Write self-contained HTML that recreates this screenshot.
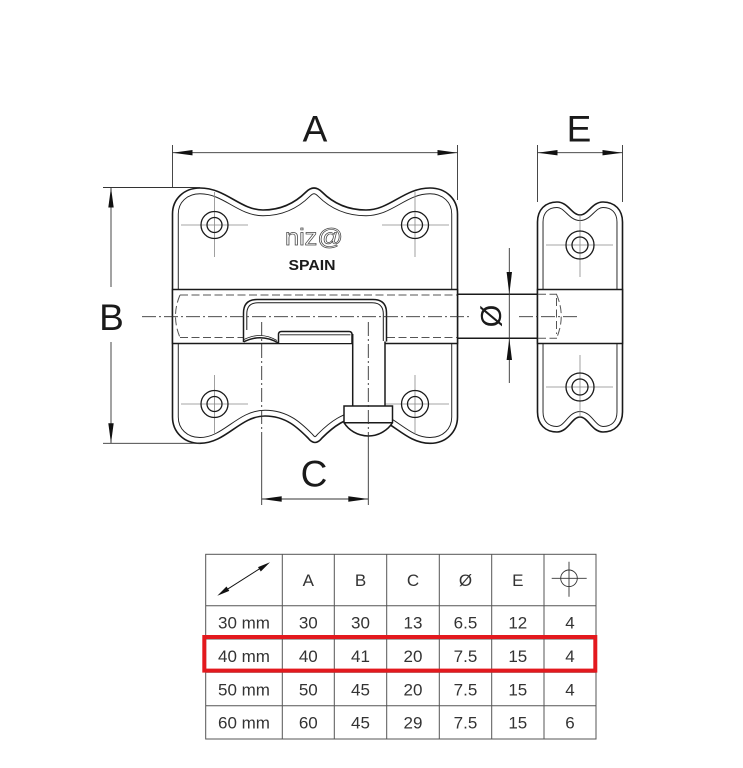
<!DOCTYPE html>
<html><head><meta charset="utf-8"><style>
html,body{margin:0;padding:0;background:#fff;}
svg{display:block;}
text{font-family:"Liberation Sans",sans-serif;}
</style></head><body>
<svg width="743" height="768" viewBox="0 0 743 768" xmlns="http://www.w3.org/2000/svg">
<defs>
<clipPath id="cm"><path id="pm" d="M172.5,300 L172.5,214 C172.5,199 184,188 200,188 C226,188 240,210 263,210 C284,210 298,200 306,192 Q314,184 322,192 C330,200 344,210 366,210 C390,210 404,188 430,188 C446,188 457.5,199 457.5,214 L457.5,417 C457.5,432 446,443.3 430,443.3 C404,443.3 390,416 366,416 C346,416 332,428 322,438 Q315,447 308,438 C298,428 286,416 265,416 C240,416 226,443.3 200,443.3 C184,443.3 172.5,432 172.5,417 Z"/></clipPath>
<clipPath id="ce"><path id="pe" d="M537.5,300 L537.5,222 C537.5,210 545,202 557,202 C568,202 572,215 580,215 C588,215 592,202 603,202 C615,202 622.5,210 622.5,222 L622.5,412 C622.5,424 615,432 603,432 C592,432 588,417 580,417 C572,417 568,432 557,432 C545,432 537.5,424 537.5,412 Z"/></clipPath>
</defs>

<!-- Main plate -->
<use href="#pm" fill="#fff"/>
<g clip-path="url(#cm)">
<use href="#pm" fill="none" stroke="#222" stroke-width="12.5"/>
<use href="#pm" fill="none" stroke="#fff" stroke-width="10.6"/>
</g>
<use href="#pm" fill="none" stroke="#1a1a1a" stroke-width="1.6"/>

<!-- E plate -->
<use href="#pe" fill="#fff"/>
<g clip-path="url(#ce)">
<use href="#pe" fill="none" stroke="#222" stroke-width="12"/>
<use href="#pe" fill="none" stroke="#fff" stroke-width="10.1"/>
</g>
<use href="#pe" fill="none" stroke="#1a1a1a" stroke-width="1.6"/>

<!-- screw holes crosshairs -->
<g stroke="#888" stroke-width="0.8" fill="none">
<line x1="181" y1="225" x2="248" y2="225"/><line x1="214.5" y1="192" x2="214.5" y2="257"/>
<line x1="382" y1="225" x2="449" y2="225"/><line x1="415" y1="192" x2="415" y2="257"/>
<line x1="181" y1="404" x2="248" y2="404"/><line x1="214.5" y1="375" x2="214.5" y2="434"/>
<line x1="382" y1="404" x2="449" y2="404"/><line x1="415" y1="375" x2="415" y2="434"/>
<line x1="546" y1="245" x2="613" y2="245"/><line x1="580" y1="215" x2="580" y2="277"/>
<line x1="546" y1="387" x2="613" y2="387"/><line x1="580" y1="355" x2="580" y2="417"/>
</g>
<g stroke="#1a1a1a" stroke-width="1.3" fill="none">
<circle cx="214.5" cy="225" r="13.5"/><circle cx="214.5" cy="225" r="7.5"/>
<circle cx="415" cy="225" r="13.5"/><circle cx="415" cy="225" r="7.5"/>
<circle cx="214.5" cy="404" r="13.5"/><circle cx="214.5" cy="404" r="7.5"/>
<circle cx="415" cy="404" r="13.5"/><circle cx="415" cy="404" r="7.5"/>
<circle cx="580" cy="245" r="14"/><circle cx="580" cy="245" r="8"/>
<circle cx="580" cy="387" r="14"/><circle cx="580" cy="387" r="8"/>
</g>

<!-- logo -->
<text x="285" y="245" font-size="23" fill="#fff" stroke="#444" stroke-width="0.7" textLength="58" lengthAdjust="spacingAndGlyphs">niz@</text>
<text x="288.5" y="270" font-size="14.5" font-weight="bold" fill="#1a1a1a" textLength="47" lengthAdjust="spacingAndGlyphs">SPAIN</text>

<!-- bars -->
<rect x="172.5" y="289.5" width="285" height="54" fill="#fff" stroke="#1a1a1a" stroke-width="1.5"/>
<rect x="537.5" y="289.5" width="85" height="54" fill="#fff" stroke="#1a1a1a" stroke-width="1.5"/>
<!-- rod visible -->
<line x1="457.5" y1="294.3" x2="537.5" y2="294.3" stroke="#1a1a1a" stroke-width="1.5"/>
<line x1="457.5" y1="338.3" x2="537.5" y2="338.3" stroke="#1a1a1a" stroke-width="1.5"/>
<!-- hidden rod lines -->
<g stroke="#555" stroke-width="1" fill="none" stroke-dasharray="8 3.5">
<line x1="180" y1="295" x2="457" y2="295"/>
<line x1="180" y1="337.5" x2="457" y2="337.5"/>
<path d="M180,295 Q171,316 180,337.5"/>
<line x1="538" y1="294.3" x2="557" y2="294.3"/>
<line x1="538" y1="338.3" x2="557" y2="338.3"/>
<path d="M556.5,294.3 Q566,316 556.5,338.3"/>
<line x1="556.5" y1="298" x2="556.5" y2="334"/>
</g>

<!-- handle -->
<path d="M243.5,343 L243.5,313 Q243.5,299.5 257,299.5 L373,299.5 Q386.5,299.5 386.5,313 L386.5,342 L385,342 L385,406 L352.7,406 L352.7,343 L278.5,343 Q262,334 243.5,343 Z" fill="#fff" stroke="none"/>
<g stroke="#1a1a1a" stroke-width="1.5" fill="none">
<path d="M243.5,342 L243.5,313 Q243.5,299.5 257,299.5 L373,299.5 Q386.5,299.5 386.5,313 L386.5,341.5"/>
<path d="M246.8,330 L246.8,314 Q246.8,302.8 258,302.8 L372,302.8 Q383.3,302.8 383.3,314 L383.3,341" stroke-width="1"/>
<path d="M243.5,342 Q261,333 278.5,343"/>
<path d="M244,339.5 Q261,331 277,340.5" stroke-width="0.8"/>
<path d="M278.5,343 L278.5,334.5 Q278.5,331.5 281.5,331.5 L349,331.5 Q352,331.5 352,334.5 L352,343"/>
<line x1="280" y1="334.8" x2="350.5" y2="334.8" stroke-width="0.9"/>
<line x1="352.7" y1="334" x2="352.7" y2="406"/>
<line x1="385" y1="341.5" x2="385" y2="406"/>
</g>
<!-- knob -->
<path d="M344,406 L392.5,406 L392.5,422.7 A28.8,28.8 0 0 1 344,422.7 Z" fill="#fff" stroke="#1a1a1a" stroke-width="1.5"/>
<line x1="344" y1="422.7" x2="392.5" y2="422.7" stroke="#1a1a1a" stroke-width="1.5"/>

<!-- centerlines -->
<g stroke="#333" stroke-width="0.9" fill="none" stroke-dasharray="14 3 2 3">
<line x1="142" y1="316.7" x2="471" y2="316.7"/>
<line x1="519" y1="316.7" x2="579" y2="316.7"/>
<line x1="261.7" y1="322" x2="261.7" y2="444"/>
<line x1="368.3" y1="322" x2="368.3" y2="444"/>
</g>

<!-- dimension lines -->
<g stroke="#333" stroke-width="0.9" fill="none">
<line x1="261.7" y1="444" x2="261.7" y2="505"/>
<line x1="368.3" y1="444" x2="368.3" y2="505"/>
<line x1="172.5" y1="145" x2="172.5" y2="188"/>
<line x1="457.5" y1="145" x2="457.5" y2="200"/>
<line x1="537.5" y1="145" x2="537.5" y2="202"/>
<line x1="622.5" y1="145" x2="622.5" y2="202"/>
<line x1="103" y1="187.5" x2="200" y2="187.5"/>
<line x1="103" y1="443.3" x2="200" y2="443.3"/>
<line x1="172.5" y1="152.7" x2="457.5" y2="152.7"/>
<line x1="537.5" y1="152.7" x2="622.5" y2="152.7"/>
<line x1="261.7" y1="499" x2="368.3" y2="499"/>
<line x1="111" y1="187.5" x2="111" y2="287"/>
<line x1="111" y1="342" x2="111" y2="443.3"/>
<line x1="509.3" y1="248" x2="509.3" y2="383"/>
</g>
<g fill="#111">
<polygon points="172.5,152.7 192.5,150 192.5,155.4"/>
<polygon points="457.5,152.7 437.5,150 437.5,155.4"/>
<polygon points="537.5,152.7 557.5,150 557.5,155.4"/>
<polygon points="622.5,152.7 602.5,150 602.5,155.4"/>
<polygon points="261.7,499 281.7,496.3 281.7,501.7"/>
<polygon points="368.3,499 348.3,496.3 348.3,501.7"/>
<polygon points="111,187.5 108.3,207.5 113.7,207.5"/>
<polygon points="111,443.3 108.3,423.3 113.7,423.3"/>
<polygon points="509.3,294.3 506.6,272 512,272"/>
<polygon points="509.3,338.3 506.6,360 512,360"/>
</g>
<g fill="#1a1a1a" font-size="37" text-anchor="middle">
<text x="315" y="141.5">A</text>
<text x="579" y="141.5">E</text>
<text x="111.5" y="330">B</text>
<text x="314" y="486.5">C</text>
</g>
<text x="0" y="0" font-size="29" text-anchor="middle" fill="#1a1a1a" transform="translate(491.5,316) rotate(90) translate(0,10.5)">Ø</text>

<!-- table -->
<g stroke="#555" stroke-width="1" fill="none">
<rect x="205.7" y="554.3" width="390.3" height="184.7"/>
<line x1="205.7" y1="605.7" x2="596" y2="605.7"/>
<line x1="205.7" y1="639" x2="596" y2="639"/>
<line x1="205.7" y1="672.3" x2="596" y2="672.3"/>
<line x1="205.7" y1="705.7" x2="596" y2="705.7"/>
<line x1="282.3" y1="554.3" x2="282.3" y2="739"/>
<line x1="334.3" y1="554.3" x2="334.3" y2="739"/>
<line x1="386.7" y1="554.3" x2="386.7" y2="739"/>
<line x1="439.3" y1="554.3" x2="439.3" y2="739"/>
<line x1="491.7" y1="554.3" x2="491.7" y2="739"/>
<line x1="544" y1="554.3" x2="544" y2="739"/>
</g>
<!-- header icons -->
<line x1="222" y1="592.7" x2="265" y2="565.3" stroke="#111" stroke-width="1"/>
<polygon points="217.3,595.7 226.5,586.5 229.3,590.9" fill="#111"/>
<polygon points="270,562.3 260.8,571.5 258,567.1" fill="#111"/>
<g stroke="#333" stroke-width="0.9" fill="none">
<circle cx="569" cy="578.3" r="8.3"/>
<line x1="551.7" y1="578.3" x2="586.7" y2="578.3"/>
<line x1="569" y1="561.7" x2="569" y2="596.7"/>
</g>
<g fill="#333" font-size="17" text-anchor="middle">
<text x="308.3" y="586">A</text><text x="360.5" y="586">B</text><text x="413" y="586">C</text><text x="465.5" y="586">Ø</text><text x="517.8" y="586">E</text>
<text x="244" y="628.5">30 mm</text><text x="308.3" y="628.5">30</text><text x="360.5" y="628.5">30</text><text x="413" y="628.5">13</text><text x="465.5" y="628.5">6.5</text><text x="517.8" y="628.5">12</text><text x="570" y="628.5">4</text>
<text x="244" y="662">40 mm</text><text x="308.3" y="662">40</text><text x="360.5" y="662">41</text><text x="413" y="662">20</text><text x="465.5" y="662">7.5</text><text x="517.8" y="662">15</text><text x="570" y="662">4</text>
<text x="244" y="695.3">50 mm</text><text x="308.3" y="695.3">50</text><text x="360.5" y="695.3">45</text><text x="413" y="695.3">20</text><text x="465.5" y="695.3">7.5</text><text x="517.8" y="695.3">15</text><text x="570" y="695.3">4</text>
<text x="244" y="728.6">60 mm</text><text x="308.3" y="728.6">60</text><text x="360.5" y="728.6">45</text><text x="413" y="728.6">29</text><text x="465.5" y="728.6">7.5</text><text x="517.8" y="728.6">15</text><text x="570" y="728.6">6</text>
</g>
<rect x="204.3" y="637" width="391" height="33.6" fill="none" stroke="#e3191e" stroke-width="4"/>
</svg>
</body></html>
